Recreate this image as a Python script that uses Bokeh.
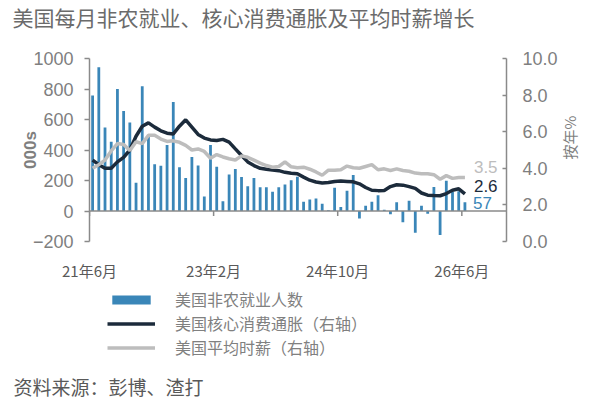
import math
from bokeh.plotting import figure
from bokeh.layouts import column, row
from bokeh.models import (Range1d, LinearAxis, FixedTicker, PrintfTickFormatter,
                          Legend, LegendItem, Label, Span)
from bokeh.core.properties import value
from bokeh.embed import file_html
from bokeh.resources import INLINE

# ---------------- data ----------------
nfp = [757, 943, 548, 454, 800, 656, 581, 186, 818, 485,
       307, 296, 432, 714, 287, 217, 354, 298, 95, 432,
       290, 64, 240, 276, 223, 162, 216, 155, 155, 126,
       155, 173, 202, 224, 60, 76, 82, 48, 5, 152,
       27, 133, 236, -49, 35, 61, 103, 9, -22, 57,
       -73, 67, -143, 35, -18, 157, -158, 198, 125, 130,
       57]
core_cpi = [4.45, 4.2, 4.0, 4.0, 4.35, 4.6, 5.0, 5.75, 6.3, 6.48,
            6.25, 6.05, 5.92, 5.88, 6.3, 6.65, 6.25, 5.85, 5.65, 5.55,
            5.52, 5.58, 5.43, 5.06, 4.7, 4.35, 4.15, 4.0, 3.95, 3.9,
            3.87, 3.78, 3.73, 3.7, 3.52, 3.35, 3.25, 3.2, 3.22, 3.28,
            3.3, 3.28, 3.26, 3.15, 2.95, 2.8, 2.78, 2.79, 3.0, 3.1,
            3.08, 3.0, 2.9, 2.65, 2.53, 2.51, 2.5, 2.62, 2.8, 2.88,
            2.6]
ahe = [4.0, 4.2, 4.45, 4.95, 5.35, 5.3, 4.97, 5.45, 5.35, 5.8,
       5.8, 5.6, 5.47, 5.5, 5.42, 5.25, 5.0, 5.06, 4.92, 4.55,
       4.75, 4.62, 4.52, 4.45, 4.68, 4.6, 4.45, 4.28, 4.15, 4.06,
       4.1, 4.35, 4.08, 4.03, 4.06, 3.95, 3.8, 3.62, 3.9, 3.9,
       3.92, 4.12, 4.03, 4.0, 4.1, 4.2, 3.92, 3.97, 3.88, 3.97,
       3.88, 3.84, 3.74, 3.7, 3.7, 3.65, 3.4, 3.6, 3.45, 3.5,
       3.5]
tick_pos = [0, 20, 40, 60]
tick_labels = ["21年6月", "23年2月", "24年10月", "26年6月"]
left_ticks = [-200, 0, 200, 400, 600, 800, 1000]
right_ticks = [0, 2, 4, 6, 8, 10]
series_names = ["美国非农就业人数", "美国核心消费通胀（右轴）", "美国平均时薪（右轴）"]
title_text = "美国每月非农就业、核心消费通胀及平均时薪增长"
source_text = "资料来源：彭博、渣打"
left_title = "000s"
right_title = "按年%"

xs = [i + 0.5 for i in range(len(nfp))]

BLUE = "#3a86b8"
NAVY = "#1c2b3b"
GREY = "#bdbdbd"
AXIS = "#8a8a8a"
TICKTXT = "#7f7f7f"
CJK = "Noto Sans CJK SC"
LAT = "Liberation Sans"
MAIN_W = 560


def no_align(f):
    try:
        f.frame_align = False
    except Exception:
        pass
    return f


def blank(width, height, x_range=None):
    f = figure(width=width, height=height, output_backend="svg", toolbar_location=None,
               x_axis_type=None, y_axis_type=None, min_border=0,
               x_range=x_range if x_range is not None else Range1d(0, 1),
               y_range=Range1d(0, 1))
    f.outline_line_color = None
    f.background_fill_color = "white"
    f.border_fill_color = "white"
    return no_align(f)


# ---------------- title strip ----------------
p_top = blank(MAIN_W, 40)
p_top.add_layout(Label(x=12, y=24, x_units="screen", y_units="screen", text=title_text,
                       text_font=CJK, text_font_size="21px", text_color="#6b6b6b",
                       text_baseline="middle"))

# ---------------- main chart ----------------
p = figure(width=MAIN_W, height=248, output_backend="svg", toolbar_location=None,
           x_range=Range1d(0, 67.2), y_range=Range1d(-200, 1000),
           min_border_left=89, min_border_right=54, min_border_top=18,
           min_border_bottom=47)
no_align(p)
p.extra_y_ranges = {"right": Range1d(0, 10)}
p.xgrid.visible = False
p.ygrid.visible = False
p.outline_line_color = None
p.background_fill_color = "white"
p.border_fill_color = "white"

xa = p.xaxis[0]
xa.ticker = FixedTicker(ticks=tick_pos)
xa.major_label_overrides = {t: l for t, l in zip(tick_pos, tick_labels)}
xa.axis_line_color = None
xa.major_tick_line_color = None
xa.minor_tick_line_color = None
xa.major_tick_out = 0
xa.major_tick_in = 0
xa.minor_tick_out = 0
xa.major_label_standoff = 18
xa.major_label_text_font = CJK
xa.major_label_text_font_size = "15px"
xa.major_label_text_color = "#595959"

ya = p.yaxis[0]
ya.ticker = FixedTicker(ticks=left_ticks)
ya.axis_line_color = AXIS
ya.axis_line_width = 1.5
ya.major_tick_line_color = AXIS
ya.major_tick_line_width = 1.5
ya.major_tick_out = 5
ya.major_tick_in = 0
ya.minor_tick_line_color = None
ya.major_label_standoff = 11
ya.major_label_text_font = LAT
ya.major_label_text_font_size = "18px"
ya.major_label_text_color = TICKTXT
ya.axis_label = left_title
ya.axis_label_text_font = LAT
ya.axis_label_text_font_size = "17px"
ya.axis_label_text_font_style = "bold"
ya.axis_label_text_color = TICKTXT
ya.axis_label_standoff = -10

ra = LinearAxis(y_range_name="right", ticker=FixedTicker(ticks=right_ticks),
                formatter=PrintfTickFormatter(format="%.1f"))
ra.axis_line_color = AXIS
ra.axis_line_width = 1.5
ra.major_tick_line_color = AXIS
ra.major_tick_line_width = 1.5
ra.major_tick_out = 0
ra.major_tick_in = 4
ra.minor_tick_line_color = None
ra.major_label_standoff = 16
ra.major_label_text_font = LAT
ra.major_label_text_font_size = "18px"
ra.major_label_text_color = TICKTXT
p.add_layout(ra, "right")

# zero baseline and its downward ticks
p.add_layout(Span(location=0, dimension="width", line_color=AXIS, line_width=1.5))
p.ray(x=tick_pos, y=[0] * len(tick_pos), length=5, length_units="screen",
      angle=-math.pi / 2, line_color=AXIS, line_width=1.5)

p.vbar(x=xs, top=nfp, bottom=0, width=0.45, fill_color=BLUE, line_color=None)
p.line(x=xs, y=core_cpi, y_range_name="right", line_color=NAVY, line_width=3.5)
p.line(x=xs, y=ahe, y_range_name="right", line_color=GREY, line_width=3.5)

p.text(x=[xs[-1]], y=[ahe[-1]], text=[f"{ahe[-1]:.1f}"], y_range_name="right",
       x_offset=9, y_offset=-10, text_font=value(LAT), text_font_size="17px",
       text_color=GREY, text_baseline="middle", text_align="left")
p.text(x=[xs[-1]], y=[core_cpi[-1]], text=[f"{core_cpi[-1]:.1f}"], y_range_name="right",
       x_offset=9, y_offset=-8, text_font=value(LAT), text_font_size="17px",
       text_color=NAVY, text_baseline="middle", text_align="left")
p.text(x=[xs[-1]], y=[nfp[-1]], text=[f"{nfp[-1]}"],
       x_offset=8, y_offset=1, text_font=value(LAT), text_font_size="17px",
       text_color=BLUE, text_baseline="middle", text_align="left")

# ---------------- legend + source strip ----------------
# legend keys: same series, drawn with a view window that lies beside the data,
# so only the legend swatches are visible here
p_bot = blank(MAIN_W, 114, x_range=Range1d(-3, -2))
g_bar = p_bot.vbar(x=xs, top=nfp, bottom=0, width=0.45, fill_color=BLUE, line_color=None)
g_core = p_bot.line(x=xs, y=core_cpi, line_color=NAVY, line_width=3.5)
g_ahe = p_bot.line(x=xs, y=ahe, line_color=GREY, line_width=3.5)
legend = Legend(items=[LegendItem(label=series_names[0], renderers=[g_bar]),
                       LegendItem(label=series_names[1], renderers=[g_core]),
                       LegendItem(label=series_names[2], renderers=[g_ahe])],
                location=(107, 43), glyph_width=48, glyph_height=11,
                label_standoff=20, label_height=21, spacing=0, padding=0, margin=0,
                border_line_color=None, background_fill_alpha=0,
                label_text_font=CJK, label_text_font_size="16px",
                label_text_color="#808080")
p_bot.add_layout(legend)
p_bot.add_layout(Label(x=13, y=16, x_units="screen", y_units="screen", text=source_text,
                       text_font=CJK, text_font_size="19px", text_color="#595959",
                       text_baseline="middle"))

# ---------------- right strip for the rotated right-axis title ----------------
p_right = blank(26, 402)
p_right.add_layout(Label(x=9, y=265, x_units="screen", y_units="screen", text=right_title,
                         angle=math.pi / 2, text_font=CJK, text_font_size="15px",
                         text_color=TICKTXT, text_baseline="middle", text_align="center"))

layout = row(column(p_top, p, p_bot, spacing=0), p_right, spacing=0)
open("out.html", "w").write(file_html(layout, INLINE))
